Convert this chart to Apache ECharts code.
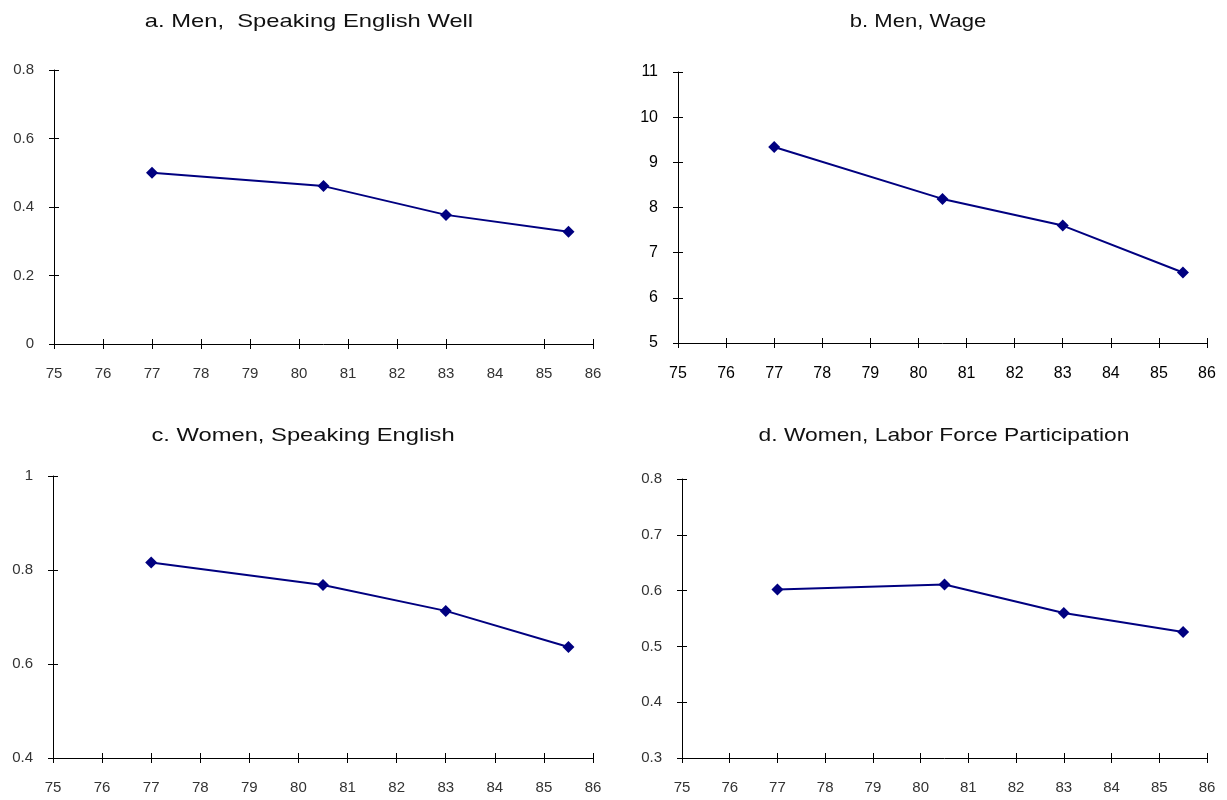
<!DOCTYPE html>
<html>
<head>
<meta charset="utf-8">
<script src="https://cdn.jsdelivr.net/npm/echarts@6/dist/echarts.min.js"></script>
<style>html,body{margin:0;padding:0;background:#fff;}#c{width:1227px;height:800px;}</style>
</head>
<body>
<div id="c"></div>
<script>
// Survey years (x) shared by all panels
const years = [77, 80.5, 83, 85.5];
// Panel values
const menEnglish = [0.50, 0.461, 0.377, 0.328];
const menWage = [9.34, 8.19, 7.60, 6.56];
const womenEnglish = [0.816, 0.768, 0.713, 0.636];
const womenLFP = [0.602, 0.611, 0.560, 0.526];
// Titles
const titles = ['a. Men,  Speaking English Well', 'b. Men, Wage', 'c. Women, Speaking English', 'd. Women, Labor Force Participation'];
// X tick labels
const xTicks = [75, 76, 77, 78, 79, 80, 81, 82, 83, 84, 85, 86];
const xTicksPanelA = [75, 76, 77, 78, 79, 80, 81, 82, 83, 85, 86];
// Y axis ranges
const yRanges = [[0, 0.8, 0.2], [5, 11, 1], [0.4, 1, 0.2], [0.3, 0.8, 0.1]];

const grids = [
  {left: 54, right: 634, top: 70, bottom: 456},
  {left: 678, right: 20, top: 72, bottom: 457},
  {left: 53, right: 634, top: 476, bottom: 42},
  {left: 682, right: 20, top: 479, bottom: 42}
];
const titlePos = [[309, 22], [918, 22], [303, 436], [944, 436]];
const titleScale = [1.25, 1.16, 1.25, 1.2];
const seriesData = [menEnglish, menWage, womenEnglish, womenLFP];

const font = 'Liberation Sans, Arial, sans-serif';
const xAxes = [], yAxes = [], series = [], graphics = [];
const lineStyle = {color: '#000', width: 1};

for (let i = 0; i < 4; i++) {
  const big = i === 1;
  const lblColor = big ? '#000' : '#333';
  const lblSize = big ? 16 : 15;
  const tickVals = i === 0 ? xTicksPanelA : xTicks;
  graphics.push({
    type: 'text', x: titlePos[i][0], y: titlePos[i][1], scaleX: titleScale[i], scaleY: 1,
    style: {text: titles[i], font: '19px "Liberation Sans", Arial, sans-serif', fill: '#111',
      textAlign: 'center', textVerticalAlign: 'middle'}
  });
  // main x axis (outside ticks + labels)
  xAxes.push({
    type: 'value', gridIndex: i, min: 75, max: 86, interval: 1,
    axisLine: {show: true, lineStyle}, splitLine: {show: false},
    axisTick: {show: true, length: 5, lineStyle, customValues: tickVals},
    axisLabel: {color: lblColor, fontSize: lblSize, fontFamily: font, margin: big ? 23 : 22, customValues: xTicks}
  });
  // overlay x axis for inside tick half
  xAxes.push({
    type: 'value', gridIndex: i, min: 75, max: 86, interval: 1, position: 'bottom',
    axisLine: {show: false}, splitLine: {show: false},
    axisTick: {show: true, inside: true, length: 5, lineStyle, customValues: tickVals},
    axisLabel: {show: false}
  });
  const r = yRanges[i];
  yAxes.push({
    type: 'value', gridIndex: i, min: r[0], max: r[1], interval: r[2],
    axisLine: {show: true, lineStyle}, splitLine: {show: false},
    axisTick: {show: true, length: 5, lineStyle},
    axisLabel: {color: lblColor, fontSize: lblSize, fontFamily: font, margin: 20,
      formatter: v => String(Math.round(v * 10) / 10)}
  });
  yAxes.push({
    type: 'value', gridIndex: i, min: r[0], max: r[1], interval: r[2], position: 'left',
    axisLine: {show: false}, splitLine: {show: false},
    axisTick: {show: true, inside: true, length: 5, lineStyle},
    axisLabel: {show: false}
  });
  series.push({
    type: 'line', xAxisIndex: i * 2, yAxisIndex: i * 2,
    data: years.map((y, k) => [y, seriesData[i][k]]),
    symbol: 'diamond', symbolSize: 12, showSymbol: true,
    lineStyle: {color: '#000080', width: 2},
    itemStyle: {color: '#000080'},
    animation: false
  });
}

const chart = echarts.init(document.getElementById('c'), null, {renderer: 'canvas'});
chart.setOption({
  backgroundColor: '#fff',
  animation: false,
  graphic: graphics,
  grid: grids,
  xAxis: xAxes,
  yAxis: yAxes,
  series: series
});
</script>
</body>
</html>
